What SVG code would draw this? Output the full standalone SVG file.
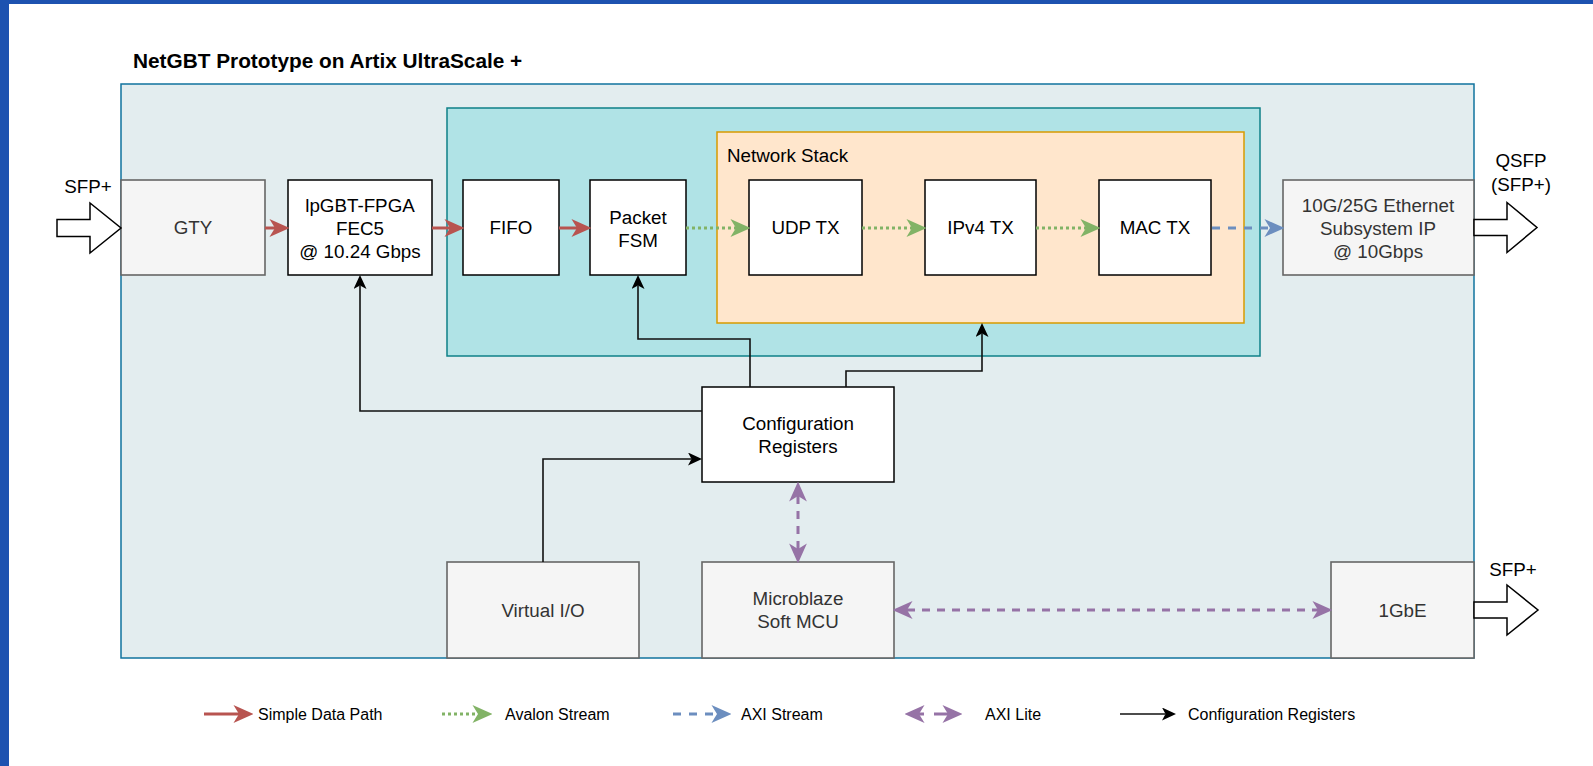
<svg xmlns="http://www.w3.org/2000/svg" width="1593" height="766" viewBox="0 0 1593 766">
<style>
text{font-family:"Liberation Sans",Arial,sans-serif;font-size:18.8px;fill:#000}
.c{text-anchor:middle}
.g text,.gt{fill:#333}
.lg{font-size:16px}
.box{fill:#fff;stroke:#000;stroke-width:1.5}
.gray{fill:#f5f5f5;stroke:#666;stroke-width:1.6}
.red{fill:none;stroke:#b85450;stroke-width:3}
.grn{fill:none;stroke:#82b366;stroke-width:3;stroke-dasharray:3 3}
.blu{fill:none;stroke:#6c8ebf;stroke-width:3;stroke-dasharray:8 8}
.pur{fill:none;stroke:#9673a6;stroke-width:3;stroke-dasharray:8 7}
.blk{fill:none;stroke:#111;stroke-width:1.6}
.big{fill:#fff;stroke:#000;stroke-width:1.5}
</style>
<defs>
<marker id="mR" markerUnits="userSpaceOnUse" markerWidth="20" markerHeight="18" viewBox="0 0 18 16" refX="5" refY="8" orient="auto"><path d="M0,0 L18,8 L0,16 L5,8 Z" fill="#b85450"/></marker>
<marker id="mG" markerUnits="userSpaceOnUse" markerWidth="20" markerHeight="18" viewBox="0 0 18 16" refX="5" refY="8" orient="auto"><path d="M0,0 L18,8 L0,16 L5,8 Z" fill="#82b366"/></marker>
<marker id="mB" markerUnits="userSpaceOnUse" markerWidth="20" markerHeight="18" viewBox="0 0 18 16" refX="5" refY="8" orient="auto"><path d="M0,0 L18,8 L0,16 L5,8 Z" fill="#6c8ebf"/></marker>
<marker id="mP" markerUnits="userSpaceOnUse" markerWidth="20" markerHeight="18" viewBox="0 0 18 16" refX="5" refY="8" orient="auto-start-reverse"><path d="M0,0 L18,8 L0,16 L5,8 Z" fill="#9673a6"/></marker>
<marker id="mK" markerUnits="userSpaceOnUse" markerWidth="15" markerHeight="13" viewBox="0 0 14 13" refX="3.5" refY="6.5" orient="auto"><path d="M0,0 L14,6.5 L0,13 L3.5,6.5 Z" fill="#000"/></marker>
</defs>
<rect x="0" y="0" width="1593" height="766" fill="#fff"/>
<rect x="0" y="0" width="1593" height="4" fill="#1d52b0"/>
<rect x="0" y="0" width="9" height="766" fill="#1d52b0"/>

<g id="title"><text x="133" y="68" style="font-weight:bold;font-size:20.8px">NetGBT Prototype on Artix UltraScale +</text></g>

<g id="fpga"><rect x="121" y="84" width="1353" height="574" fill="#e3edef" stroke="#10739e" stroke-width="1.5"/></g>
<g id="core"><rect x="447" y="108" width="813" height="248" fill="#b0e3e6" stroke="#0e8088" stroke-width="1.5"/></g>
<g id="netstack"><rect x="717" y="132" width="527" height="191" fill="#ffe6cc" stroke="#d79b00" stroke-width="1.5"/><text x="727" y="162">Network Stack</text></g>

<g id="gty" class="g"><rect class="gray" x="121" y="180" width="144" height="95"/><text class="c" x="193" y="234">GTY</text></g>
<g id="lpgbt"><rect class="box" x="288" y="180" width="144" height="95"/><text class="c" x="360" y="211.6">lpGBT-FPGA</text><text class="c" x="360" y="234.6">FEC5</text><text class="c" x="360" y="257.6">@ 10.24 Gbps</text></g>
<g id="fifo"><rect class="box" x="463" y="180" width="96" height="95"/><text class="c" x="511" y="234">FIFO</text></g>
<g id="fsm"><rect class="box" x="590" y="180" width="96" height="95"/><text class="c" x="638" y="223.6">Packet</text><text class="c" x="638" y="246.6">FSM</text></g>
<g id="udp"><rect class="box" x="749" y="180" width="113" height="95"/><text class="c" x="805.5" y="234">UDP TX</text></g>
<g id="ipv4"><rect class="box" x="925" y="180" width="111" height="95"/><text class="c" x="980.5" y="234">IPv4 TX</text></g>
<g id="mac"><rect class="box" x="1099" y="180" width="112" height="95"/><text class="c" x="1155" y="234">MAC TX</text></g>
<g id="eth" class="g"><rect class="gray" x="1283" y="180" width="191" height="95"/><text class="c" x="1378" y="211.6">10G/25G Ethernet</text><text class="c" x="1378" y="234.6">Subsystem IP</text><text class="c" x="1378" y="257.6">@ 10Gbps</text></g>
<g id="config"><rect class="box" x="702" y="387" width="192" height="95"/><text class="c" x="798" y="429.6">Configuration</text><text class="c" x="798" y="452.6">Registers</text></g>
<g id="vio" class="g"><rect class="gray" x="447" y="562" width="192" height="96"/><text class="c" x="543" y="616.6">Virtual I/O</text></g>
<g id="mcu" class="g"><rect class="gray" x="702" y="562" width="192" height="96"/><text class="c" x="798" y="605">Microblaze</text><text class="c" x="798" y="628">Soft MCU</text></g>
<g id="gbe" class="g"><rect class="gray" x="1331" y="562" width="143" height="96"/><text class="c" x="1402.5" y="616.6">1GbE</text></g>

<g id="sfp-in"><polygon class="big" points="57,219.5 90,219.5 90,203 121,228 90,253 90,236.5 57,236.5"/><text class="c" x="88" y="193">SFP+</text></g>
<g id="qsfp"><polygon class="big" points="1474,219.5 1507,219.5 1507,202.5 1537,227.5 1507,252.5 1507,235.5 1474,235.5"/><text class="c" x="1521" y="167">QSFP</text><text class="c" x="1521" y="191">(SFP+)</text></g>
<g id="sfp-out"><polygon class="big" points="1474,602 1507,602 1507,585 1538,610 1507,635 1507,618 1474,618"/><text class="c" x="1513" y="576">SFP+</text></g>

<g id="connectors">
<line class="red" x1="265" y1="228" x2="275" y2="228" marker-end="url(#mR)"/>
<line class="red" x1="432" y1="228" x2="450" y2="228" marker-end="url(#mR)"/>
<line class="red" x1="559" y1="228" x2="577" y2="228" marker-end="url(#mR)"/>
<line class="grn" x1="686" y1="228" x2="736" y2="228" marker-end="url(#mG)"/>
<line class="grn" x1="862" y1="228" x2="912" y2="228" marker-end="url(#mG)"/>
<line class="grn" x1="1036" y1="228" x2="1086" y2="228" marker-end="url(#mG)"/>
<line class="blu" x1="1212" y1="228" x2="1270" y2="228" marker-end="url(#mB)"/>
<path class="blk" d="M702,411 H360 V285.5" marker-end="url(#mK)"/>
<path class="blk" d="M750,387 V339 H638 V285.5" marker-end="url(#mK)"/>
<path class="blk" d="M846,387 V371 H982 V333.5" marker-end="url(#mK)"/>
<path class="blk" d="M543,562 V459 H691.5" marker-end="url(#mK)"/>
<line class="pur" x1="798" y1="496" x2="798" y2="549" marker-start="url(#mP)" marker-end="url(#mP)"/>
<line class="pur" x1="907" y1="610" x2="1318" y2="610" marker-start="url(#mP)" marker-end="url(#mP)"/>
</g>

<g id="legend">
<line class="red" x1="204" y1="714" x2="239" y2="714" marker-end="url(#mR)"/>
<text class="lg" x="258" y="720">Simple Data Path</text>
<line class="grn" x1="442" y1="714" x2="478" y2="714" marker-end="url(#mG)"/>
<text class="lg" x="505" y="720">Avalon Stream</text>
<line class="blu" x1="673" y1="714" x2="717" y2="714" marker-end="url(#mB)"/>
<text class="lg" x="741" y="720">AXI Stream</text>
<line class="pur" x1="919" y1="714" x2="948" y2="714" style="stroke-dasharray:5 10 20" marker-start="url(#mP)" marker-end="url(#mP)"/>
<text class="lg" x="985" y="720">AXI Lite</text>
<line class="blk" x1="1120" y1="714" x2="1165.5" y2="714" marker-end="url(#mK)"/>
<text class="lg" x="1188" y="720">Configuration Registers</text>
</g>
</svg>
